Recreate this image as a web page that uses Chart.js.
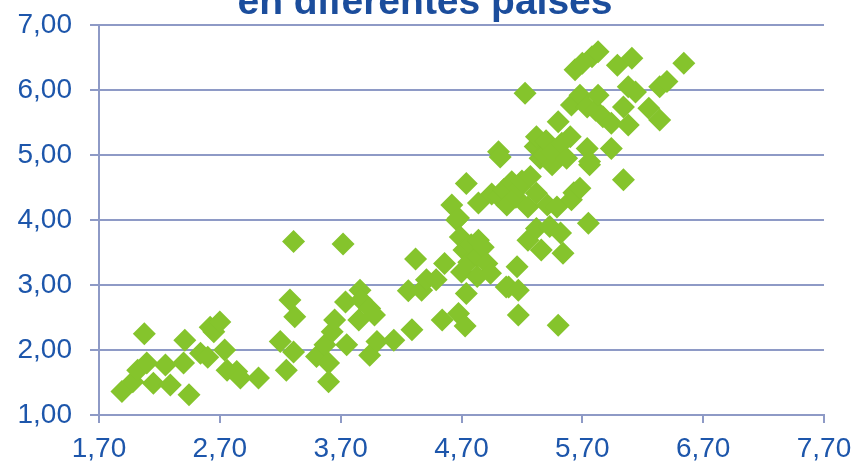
<!DOCTYPE html>
<html lang="es">
<head>
<meta charset="utf-8">
<title>en diferentes países</title>
<script src="https://cdn.jsdelivr.net/npm/chart.js@4/dist/chart.umd.min.js"></script>
<style>
  html, body { margin: 0; padding: 0; background: #ffffff; }
  #wrap { width: 854px; height: 462px; position: relative; overflow: hidden; }
</style>
</head>
<body>
<div id="wrap"><canvas id="c" width="854" height="462"></canvas></div>
<script>
// Observations: x and y value of every country
const xValues = [
  1.89, 1.98, 2.02, 2.075, 2.095, 2.15, 2.25, 2.29, 2.40, 2.41,
  2.445, 2.54, 2.60, 2.62, 2.65, 2.70, 2.74, 2.76, 2.84, 2.87,
  3.02, 3.20, 3.25, 3.31, 3.32, 3.28, 3.31, 3.50, 3.57, 3.60,
  3.60, 3.63, 3.65, 3.72, 3.74, 3.75, 3.85, 3.86, 3.87, 3.94,
  3.98, 3.94, 4.00, 4.14, 4.26, 4.29, 4.32, 4.37, 4.41, 4.49,
  4.54, 4.56, 4.62, 4.66, 4.675, 4.675, 4.69, 4.70, 4.72, 4.73,
  4.74, 4.74, 4.76, 4.78, 4.83, 4.83, 4.84, 4.84, 4.88, 4.91,
  4.94, 4.95, 5.006, 5.006, 5.02, 5.05, 5.07, 5.075, 5.09, 5.116,
  5.15, 5.16, 5.17, 5.17, 5.185, 5.20, 5.226, 5.25, 5.25, 5.27,
  5.31, 5.32, 5.32, 5.32, 5.35, 5.36, 5.38, 5.40, 5.41, 5.43,
  5.45, 5.45, 5.49, 5.50, 5.50, 5.52, 5.53, 5.54, 5.57, 5.60,
  5.61, 5.61, 5.63, 5.64, 5.68, 5.68, 5.70, 5.74, 5.74, 5.75,
  5.76, 5.76, 5.78, 5.81, 5.83, 5.83, 5.87, 5.94, 5.94, 5.99,
  6.04, 6.04, 6.08, 6.08, 6.11, 6.14, 6.25, 6.34, 6.34, 6.40,
  6.54
];
const yValues = [
  1.36, 1.51, 1.69, 2.25, 1.80, 1.49, 1.77, 1.46, 1.80, 2.15,
  1.31, 1.95, 1.89, 2.35, 2.28, 2.43, 2.00, 1.69, 1.67, 1.57,
  1.57, 2.13, 1.69, 1.97, 2.51, 2.77, 3.67, 1.90, 2.08, 1.80,
  1.51, 2.28, 2.46, 3.63, 2.74, 2.08, 2.46, 2.92, 2.77, 2.64,
  2.54, 1.92, 2.13, 2.15, 2.91, 2.31, 3.40, 2.92, 3.08, 3.08,
  2.46, 3.33, 4.23, 4.00, 2.56, 4.03, 3.74, 3.20, 3.54, 2.37,
  2.87, 4.56, 3.35, 3.62, 3.44, 3.13, 3.69, 4.26, 3.58, 3.33,
  3.18, 4.40, 4.36, 5.05, 4.97, 4.47, 2.97, 4.23, 2.97, 4.59,
  4.35, 3.28, 2.92, 2.54, 4.51, 4.60, 5.95, 4.20, 3.69, 4.67,
  5.13, 5.28, 4.41, 3.87, 4.95, 3.54, 5.00, 5.22, 4.23, 3.90,
  4.85, 5.05, 4.20, 2.38, 5.51, 3.80, 5.18, 3.49, 4.95, 5.28,
  4.31, 5.77, 4.42, 6.31, 4.49, 5.92, 6.41, 5.74, 5.10, 3.95,
  4.85, 4.90, 6.51, 5.69, 6.59, 5.92, 5.59, 5.49, 5.10, 6.38,
  5.74, 4.62, 6.05, 5.46, 6.49, 5.97, 5.72, 6.05, 5.54, 6.13,
  6.41
];
// Axis tick values (labels use a decimal comma)
const xTicks = [1.70, 2.70, 3.70, 4.70, 5.70, 6.70, 7.70];
const yTicks = [1.00, 2.00, 3.00, 4.00, 5.00, 6.00, 7.00];
const titleText = 'en diferentes países';

const points = xValues.map((x, i) => ({ x: x, y: yValues[i] }));
const fmt = v => v.toFixed(2).replace('.', ',');

const gridColor = '#8e9ac6';
const labelColor = '#1d56ab';
const fontFamily = '"Liberation Sans", Arial, sans-serif';

// Heading line drawn at the top of the canvas
const titlePlugin = {
  id: 'topTitle',
  afterDraw(chart) {
    const ctx = chart.ctx;
    ctx.save();
    ctx.font = 'bold 39px ' + fontFamily;
    ctx.fillStyle = '#1b4d9c';
    ctx.textAlign = 'center';
    ctx.textBaseline = 'alphabetic';
    ctx.fillText(titleText, 425, 14);
    ctx.restore();
  }
};

new Chart(document.getElementById('c'), {
  type: 'scatter',
  data: {
    datasets: [{
      data: points,
      pointStyle: 'rectRot',
      pointRadius: 11.5,
      pointHoverRadius: 11.5,
      pointBorderWidth: 0,
      backgroundColor: '#85c42c',
      borderColor: '#85c42c'
    }]
  },
  options: {
    responsive: false,
    animation: false,
    events: [],
    layout: { padding: { top: 25, right: 30, left: 0, bottom: 0 } },
    plugins: {
      legend: { display: false },
      tooltip: { enabled: false },
      title: { display: false }
    },
    scales: {
      x: {
        type: 'linear',
        min: xTicks[0],
        max: xTicks[xTicks.length - 1],
        afterBuildTicks(scale) { scale.ticks = xTicks.map(v => ({ value: v })); },
        afterFit(scale) {
          scale.height = 47;
          scale.paddingLeft = 0;
          scale.paddingRight = 0;
        },
        ticks: {
          callback: v => fmt(v),
          color: labelColor,
          font: { family: fontFamily, size: 28 },
          padding: 9,
          maxRotation: 0,
          autoSkip: false
        },
        grid: {
          drawOnChartArea: false,
          drawTicks: true,
          tickLength: 8,
          color: gridColor,
          lineWidth: 2
        },
        border: { display: true, color: gridColor, width: 2 }
      },
      y: {
        type: 'linear',
        min: yTicks[0],
        max: yTicks[yTicks.length - 1],
        afterBuildTicks(scale) { scale.ticks = yTicks.map(v => ({ value: v })); },
        afterFit(scale) {
          scale.width = 99;
          scale.paddingTop = 0;
          scale.paddingBottom = 0;
        },
        ticks: {
          callback: v => fmt(v),
          color: labelColor,
          font: { family: fontFamily, size: 28 },
          padding: 18,
          autoSkip: false
        },
        grid: {
          drawOnChartArea: true,
          drawTicks: true,
          tickLength: 9,
          color: gridColor,
          lineWidth: 2
        },
        border: { display: true, color: gridColor, width: 2 }
      }
    }
  },
  plugins: [titlePlugin]
});
</script>
</body>
</html>
